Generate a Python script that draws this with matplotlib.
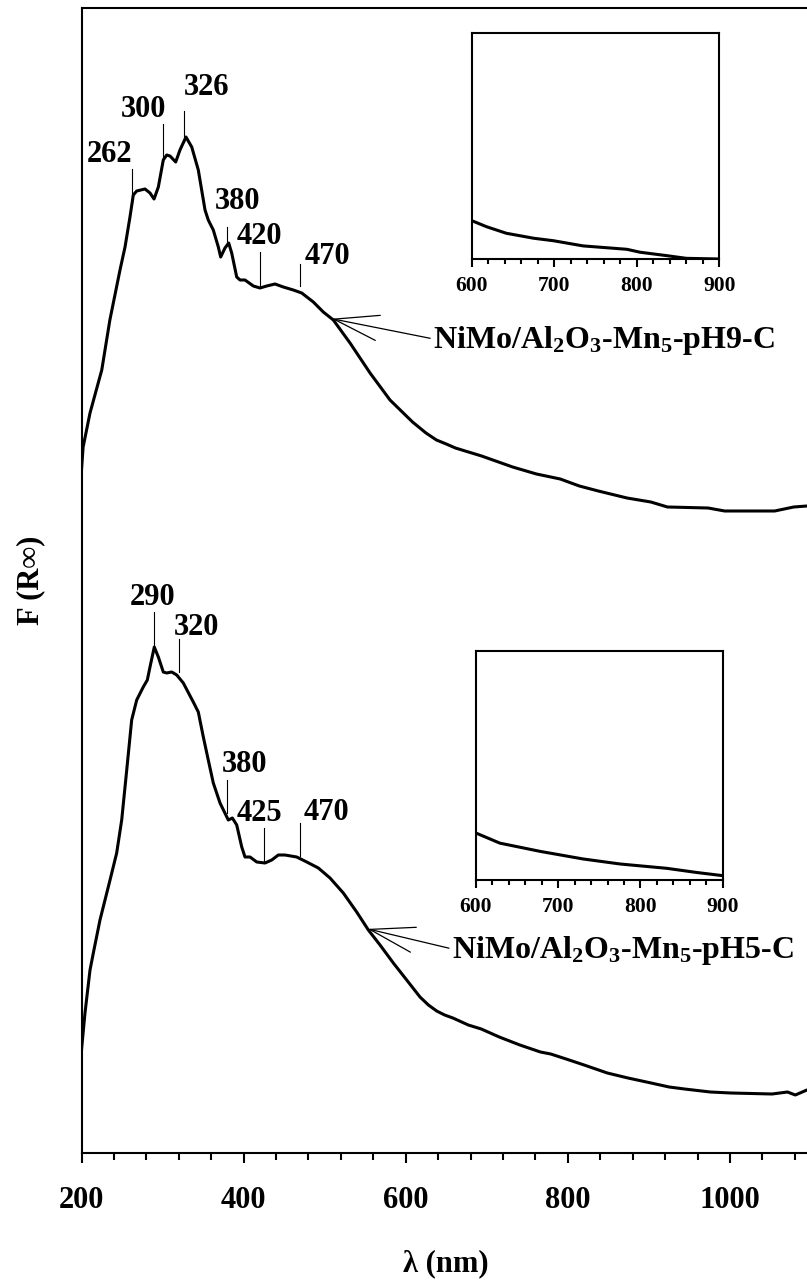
import numpy as np
import matplotlib
matplotlib.use("Agg")
import matplotlib.pyplot as plt
from matplotlib.ticker import MultipleLocator, NullLocator

plt.rcParams["font.family"] = ["Liberation Serif", "DejaVu Serif"]
plt.rcParams["font.weight"] = "bold"
plt.rcParams["mathtext.fontset"] = "custom"
plt.rcParams["mathtext.rm"] = "Liberation Serif:bold"
plt.rcParams["mathtext.default"] = "rm"

# Kubelka-Munk spectra (arbitrary units, curves offset vertically)
wl_ph9 = [200, 202, 210.5, 225, 235, 247.5, 253.7, 259.8, 263.9, 268.1, 278.3, 284.5,
          289.5, 294.8, 300.9, 305.1, 309.2, 316.2, 321.5, 328.9, 336, 344.1, 352.4,
          356.4, 362.6, 368.8, 371.7, 377, 381.6, 385.3, 391.5, 395.6, 401.7, 412,
          420.2, 428.5, 438.7, 449, 461.3, 471.7, 486, 498.3, 510.7, 531.3, 556,
          580.6, 608.4, 625, 637.9, 650, 661.3, 693.6, 731.9, 761.3, 790.6, 814.2,
          837.6, 873, 902.4, 922.9, 973, 993.5, 1055.2, 1078.7, 1095, 1100]
f_ph9 = [68.3, 70.6, 74.0, 78.3, 83.3, 88.3, 90.6, 93.6, 95.8, 96.2, 96.4, 96.0,
         95.4, 96.6, 99.3, 99.8, 99.7, 99.1, 100.3, 101.6, 100.6, 98.3, 94.3,
         93.3, 92.3, 90.6, 89.6, 90.5, 91.0, 90.0, 87.6, 87.3, 87.3, 86.7,
         86.5, 86.7, 86.9, 86.6, 86.3, 86.0, 85.1, 84.1, 83.3, 81.0, 78.0,
         75.3, 73.1, 72.0, 71.3, 70.9, 70.5, 69.7, 68.6, 67.9, 67.4, 66.7,
         66.2, 65.5, 65.1, 64.6, 64.5, 64.2, 64.2, 64.6, 64.7, 64.8]

wl_ph5 = [200, 204.3, 210.5, 214.6, 222.8, 235.2, 243.4, 249.6, 255.8, 261.9, 268.1,
          276.2, 281.2, 284.5, 289.8, 294.8, 300.9, 305.1, 311.3, 317.5, 325.6, 337.9,
          344.1, 350.3, 356.4, 362.6, 370.9, 381.1, 386.1, 391.5, 397.7, 401.7, 407.9,
          416.2, 426.4, 434.7, 442.8, 451.1, 465.5, 477.9, 492.2, 506.6, 523, 539.5,
          553.9, 568.3, 584.7, 601.2, 617.6, 628, 638.2, 648, 658.2, 677.2, 693.2,
          715.4, 740.8, 766.2, 778.9, 797.9, 820.1, 848.7, 874.2, 902.7, 925, 944,
          975.7, 1001.1, 1051.9, 1071, 1080.6, 1095, 1100]
f_ph5 = [10.3, 14.0, 18.3, 20.0, 23.3, 27.3, 30.0, 33.3, 38.3, 43.3, 45.3,
         46.6, 47.3, 48.6, 50.6, 49.6, 48.1, 48.0, 48.1, 47.8, 47.0, 45.1,
         44.1, 41.6, 39.3, 37.0, 35.0, 33.3, 33.5, 32.8, 30.6, 29.6, 29.6,
         29.1, 29.0, 29.3, 29.8, 29.8, 29.6, 29.1, 28.5, 27.5, 26.0, 24.1,
         22.3, 20.8, 19.0, 17.3, 15.6, 14.8, 14.2, 13.8, 13.5, 12.8, 12.4,
         11.6, 10.8, 10.1, 9.9, 9.4, 8.8, 8.0, 7.5, 7.0, 6.6, 6.4,
         6.1, 6.0, 5.9, 6.1, 5.8, 6.3, 6.4]

# 600-900 nm detail for the insets
wl_ins_ph9 = [600, 618, 642, 675, 699, 735, 788, 804, 836, 860, 900]
f_ins_ph9 = [0.170, 0.143, 0.114, 0.092, 0.081, 0.058, 0.043, 0.030, 0.015, 0.003, 0.0]
wl_ins_ph5 = [600, 629, 678, 730, 775, 832, 868, 900]
f_ins_ph5 = [0.205, 0.161, 0.125, 0.092, 0.070, 0.051, 0.033, 0.019]

peaks_ph9 = [262, 300, 326, 380, 420, 470]
peaks_ph5 = [290, 320, 380, 425, 470]

names = ["NiMo/Al$_2$O$_3$-Mn$_5$-pH9-C", "NiMo/Al$_2$O$_3$-Mn$_5$-pH5-C"]

# marker line gap/length (curve units), label offset (points), alignment
layout_ph9 = [(0.2, 3.4, 0, 5, "right"), (0.6, 3.4, -14, 5, "center"),
              (0.0, 3.1, 0, 11.5, "left"), (0.0, 1.8, 7, 12.5, "center"),
              (0.1, 3.5, 0, 5.5, "center"), (0.7, 2.2, 3, 0, "left")]
layout_ph5 = [(0.2, 3.3, -1, 5, "center"), (0.5, 3.3, -3.5, 3.5, "left"),
              (0.5, 3.3, 12.5, 6, "center"), (0.2, 3.3, -3, 5, "center"),
              (0.3, 3.3, 2, 2, "left")]

W, H = 807, 1281
FS = 22


def mark_peaks(ax, wl, f, peaks, layout):
    for p, (gap, length, dx, dy, ha) in zip(peaks, layout):
        y0 = np.interp(p, wl, f) + gap
        ax.plot([p, p], [y0, y0 + length], color="black", lw=0.8)
        ax.annotate(str(p), xy=(p, y0 + length), xytext=(dx, dy),
                    textcoords="offset points", ha=ha, va="baseline",
                    fontsize=FS, fontweight="bold")


def label_curve(ax, wl, f, tip, pos, text):
    ax.annotate(text, xy=(tip, np.interp(tip, wl, f)), xytext=pos,
                ha="left", va="baseline", fontsize=23, fontweight="bold",
                arrowprops=dict(arrowstyle="->,head_length=1.4,head_width=0.4",
                                color="black", lw=0.9, shrinkA=0, shrinkB=0,
                                relpos=(0, 0.55)))


def add_inset(box, wl, f):
    left, top, right, bottom = box
    ins = fig.add_axes([left / W, 1 - bottom / H, (right - left) / W, (bottom - top) / H])
    ins.plot(wl, f, color="black", lw=2.2, solid_joinstyle="round")
    ins.set_xlim(600, 900)
    ins.set_ylim(0, 1)
    ins.xaxis.set_major_locator(MultipleLocator(100))
    ins.xaxis.set_minor_locator(MultipleLocator(20))
    ins.yaxis.set_major_locator(NullLocator())
    ins.tick_params(axis="x", which="major", direction="out", length=6, width=1.5,
                    labelsize=15.5, pad=6)
    ins.tick_params(axis="x", which="minor", direction="out", length=3.5, width=1.5)
    for s in ins.spines.values():
        s.set_linewidth(1.5)
    return ins


fig = plt.figure(figsize=(W / 100, H / 100), dpi=100)
ax = fig.add_axes([81.5 / W, 1 - 1153 / H, (811 - 81.5) / W, (1153 - 8) / H])

ax.plot(wl_ph9, f_ph9, color="black", lw=2.2, solid_joinstyle="round")
ax.plot(wl_ph5, f_ph5, color="black", lw=2.2, solid_joinstyle="round")
ax.set_xlim(200, 1100)
ax.set_ylim(0, 114.5)

ax.xaxis.set_major_locator(MultipleLocator(200))
ax.xaxis.set_minor_locator(MultipleLocator(40))
ax.yaxis.set_major_locator(NullLocator())
ax.tick_params(axis="x", which="major", direction="out", length=7.5, width=1.5,
               labelsize=FS, pad=16)
ax.tick_params(axis="x", which="minor", direction="out", length=5, width=1.5)
for s in ax.spines.values():
    s.set_linewidth(1.5)

ax.set_xlabel("λ (nm)", fontsize=FS, fontweight="bold", labelpad=25)
ax.set_ylabel("F (R∞)", fontsize=FS, fontweight="bold", labelpad=26)

mark_peaks(ax, wl_ph9, f_ph9, peaks_ph9, layout_ph9)
mark_peaks(ax, wl_ph5, f_ph5, peaks_ph5, layout_ph5)

label_curve(ax, wl_ph9, f_ph9, 508.7, (633.6, 80.5), names[0])
label_curve(ax, wl_ph5, f_ph5, 553.0, (656.8, 19.5), names[1])

add_inset((471.7, 33.3, 719.3, 259), wl_ins_ph9, f_ins_ph9)
add_inset((476, 651, 722.7, 880), wl_ins_ph5, f_ins_ph5)

fig.savefig("out.png", dpi=100)
